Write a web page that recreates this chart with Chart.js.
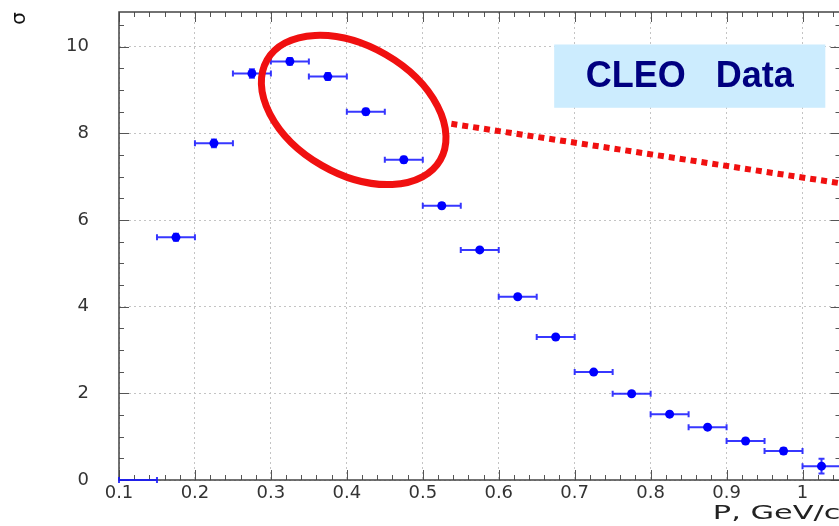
<!DOCTYPE html>
<html lang="en">
<head>
<meta charset="UTF-8">
<title>CLEO Data</title>
<script src="https://cdn.jsdelivr.net/npm/chart.js"></script>
<style>
  html, body { margin: 0; padding: 0; background: #fff; overflow: hidden; }
  canvas { display: block; }
</style>
</head>
<body>
<canvas id="cleo" width="845" height="526"></canvas>
<script>
// momentum bins (GeV/c)
const pCentres = [0.125, 0.175, 0.225, 0.275, 0.325, 0.375, 0.425, 0.475, 0.525, 0.575,
                  0.625, 0.675, 0.725, 0.775, 0.825, 0.875, 0.925, 0.975, 1.025];
const pHalfWidth = [0.025, 0.025, 0.025, 0.025, 0.025, 0.025, 0.025, 0.025, 0.025, 0.025,
                    0.025, 0.025, 0.025, 0.025, 0.025, 0.025, 0.025, 0.025, 0.025];
// cross section per bin and its error
const sigma = [0, 5.6, 7.77, 9.38, 9.66, 9.31, 8.5, 7.39, 6.33, 5.31,
               4.23, 3.3, 2.49, 1.99, 1.52, 1.22, 0.9, 0.67, 0.32];
const sigmaErr = [0, 0.08, 0.09, 0.1, 0.08, 0.08, 0.07, 0.07, 0.06, 0.04,
                  0.04, 0.04, 0.04, 0.04, 0.05, 0.04, 0.05, 0.07, 0.17];

const xTicks = [0.1, 0.2, 0.3, 0.4, 0.5, 0.6, 0.7, 0.8, 0.9, 1.0];
const xTickLabels = ['0.1', '0.2', '0.3', '0.4', '0.5', '0.6', '0.7', '0.8', '0.9', '1'];
const yTicks = [0, 2, 4, 6, 8, 10];
const yTickLabels = ['0', '2', '4', '6', '8', '10'];

const xTitle = 'P, GeV/c';
const yTitle = 'σ';
const boxText = 'CLEO   Data';

const BLUE = '#0000ff';
const RED = '#f01010';

// frame with inward major/minor ticks on all four sides
const frame = {
  id: 'frame',
  beforeDatasetsDraw(chart) {
    const { ctx, chartArea: a, scales: { x, y } } = chart;
    ctx.save();
    ctx.strokeStyle = '#555';
    ctx.lineWidth = 1;
    ctx.beginPath();
    for (let i = 0; i <= 47; i++) {
      const px = Math.round(x.getPixelForValue(0.1 + i * 0.02)) + 0.5;
      const len = i % 5 === 0 ? 10 : 5;
      ctx.moveTo(px, a.bottom); ctx.lineTo(px, a.bottom - len);
      ctx.moveTo(px, a.top); ctx.lineTo(px, a.top + len);
    }
    for (let i = 0; i <= 21; i++) {
      const py = Math.round(y.getPixelForValue(i * 0.5)) + 0.5;
      const len = i % 4 === 0 ? 10 : 5;
      ctx.moveTo(a.left, py); ctx.lineTo(a.left + len, py);
      ctx.moveTo(a.right, py); ctx.lineTo(a.right - len, py);
    }
    ctx.stroke();
    ctx.lineWidth = 1.5;
    ctx.strokeStyle = '#444';
    ctx.strokeRect(a.left, a.top, a.right - a.left, a.bottom - a.top);
    ctx.restore();

    // error bars go under the markers
    ctx.save();
    ctx.strokeStyle = 'rgba(20,20,255,0.85)';
    ctx.lineWidth = 2;
    pCentres.forEach((p, i) => {
      const x0 = x.getPixelForValue(p - pHalfWidth[i]);
      const x1 = x.getPixelForValue(p + pHalfWidth[i]);
      const xc = x.getPixelForValue(p);
      const yc = y.getPixelForValue(sigma[i]);
      ctx.beginPath();
      ctx.moveTo(x0, yc); ctx.lineTo(x1, yc);
      ctx.moveTo(x0, yc - 3); ctx.lineTo(x0, yc + 3);
      ctx.moveTo(x1, yc - 3); ctx.lineTo(x1, yc + 3);
      if (sigmaErr[i] > 0) {
        const ya = y.getPixelForValue(sigma[i] - sigmaErr[i]);
        const yb = y.getPixelForValue(sigma[i] + sigmaErr[i]);
        ctx.moveTo(xc, ya); ctx.lineTo(xc, yb);
        ctx.moveTo(xc - 3, ya); ctx.lineTo(xc + 3, ya);
        ctx.moveTo(xc - 3, yb); ctx.lineTo(xc + 3, yb);
      }
      ctx.stroke();
    });
    ctx.restore();
  }
};

// label box, highlight ellipse, dotted pointer and the x axis title
const overlay = {
  id: 'overlay',
  afterDraw(chart) {
    const { ctx, chartArea: a, scales: { x, y } } = chart;
    ctx.save();

    const bx0 = x.getPixelForValue(0.673), bx1 = x.getPixelForValue(1.03);
    const by0 = y.getPixelForValue(10.05), by1 = y.getPixelForValue(8.59);
    ctx.fillStyle = '#ccecfe';
    ctx.fillRect(bx0, by0, bx1 - bx0, by1 - by0);
    ctx.fillStyle = '#000080';
    ctx.font = 'bold 36px "Liberation Sans", Arial, sans-serif';
    ctx.textAlign = 'center';
    ctx.textBaseline = 'middle';
    ctx.fillText(boxText, (bx0 + bx1) / 2, (by0 + by1) / 2 + 1);

    ctx.strokeStyle = RED;
    ctx.lineWidth = 7;
    ctx.beginPath();
    ctx.ellipse(x.getPixelForValue(0.409), y.getPixelForValue(8.54), 100, 64, 30 * Math.PI / 180, 0, 2 * Math.PI);
    ctx.stroke();

    ctx.lineWidth = 6;
    ctx.setLineDash([6, 5]);
    ctx.beginPath();
    ctx.moveTo(x.getPixelForValue(0.5376), y.getPixelForValue(8.22));
    ctx.lineTo(x.getPixelForValue(1.06), y.getPixelForValue(6.82));
    ctx.stroke();
    ctx.setLineDash([]);

    ctx.fillStyle = '#222';
    ctx.font = '19px "DejaVu Sans", sans-serif';
    ctx.textAlign = 'left';
    ctx.textBaseline = 'alphabetic';
    const w = ctx.measureText(xTitle).width * 1.6;
    ctx.translate(a.right - w, 519);
    ctx.scale(1.6, 1);
    ctx.fillText(xTitle, 0, 0);
    ctx.restore();
  }
};

const tickFont = { family: '"DejaVu Sans", sans-serif', size: 18 };

new Chart(document.getElementById('cleo'), {
  type: 'scatter',
  data: {
    datasets: [{
      data: pCentres.map((p, i) => ({ x: p, y: sigma[i] })),
      backgroundColor: BLUE,
      borderColor: BLUE,
      pointStyle: 'circle',
      pointRadius: sigma.map(v => (v > 0 ? 4.5 : 0)),
      borderWidth: 0,
      showLine: false
    }]
  },
  options: {
    responsive: false,
    animation: false,
    layout: { padding: { top: 12, right: 3, left: 0, bottom: 0 } },
    scales: {
      x: {
        type: 'linear',
        min: 0.1,
        max: 1.05,
        afterBuildTicks: s => { s.ticks = xTicks.map(v => ({ value: v })); },
        afterFit: s => { s.height = 46; },
        ticks: {
          autoSkip: false,
          maxRotation: 0,
          padding: 3,
          color: '#333',
          font: tickFont,
          callback: (v, i) => xTickLabels[i]
        },
        grid: { color: '#c4c4c4', lineWidth: 1, drawTicks: false },
        border: { display: false, dash: [2, 3] }
      },
      y: {
        min: 0,
        max: 10.8,
        afterBuildTicks: s => { s.ticks = yTicks.map(v => ({ value: v })); },
        afterFit: s => { s.width = 119; },
        ticks: {
          padding: 0,
          color: '#333',
          font: tickFont,
          callback: (v, i) => yTickLabels[i]
        },
        // invisible outer tick marks keep the labels clear of the frame
        grid: { color: '#c4c4c4', lineWidth: 1, drawTicks: true, tickLength: 30, tickColor: 'rgba(0,0,0,0)' },
        border: { display: false, dash: [2, 3] },
        title: {
          display: true,
          text: yTitle,
          align: 'end',
          color: '#111',
          font: { family: '"DejaVu Sans", sans-serif', size: 20 },
          padding: { top: 8, bottom: 0 }
        }
      }
    },
    plugins: {
      legend: { display: false },
      tooltip: { enabled: false }
    }
  },
  plugins: [frame, overlay]
});
</script>
</body>
</html>
